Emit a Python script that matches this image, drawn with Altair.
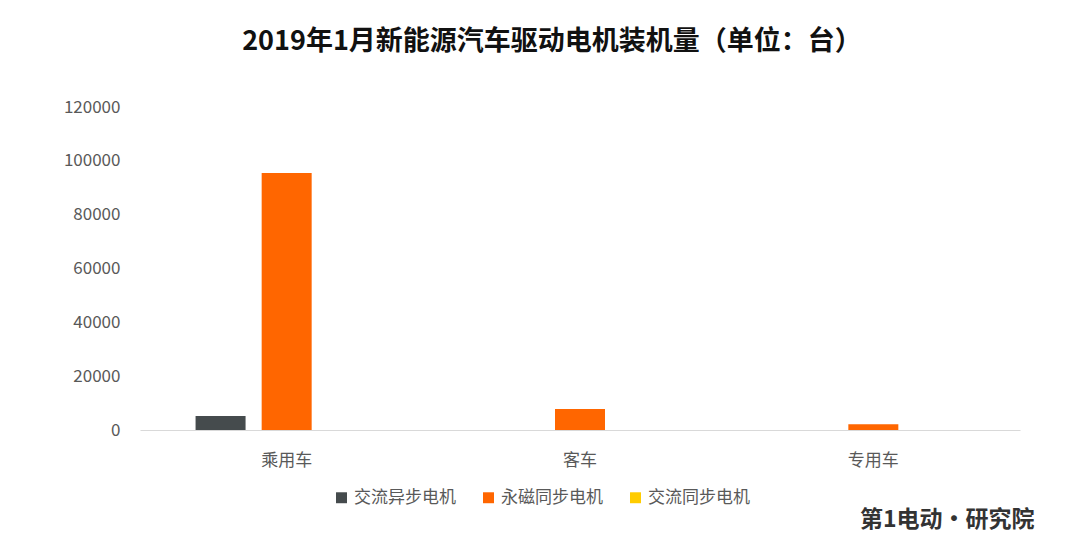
import altair as alt
import pandas as pd

categories = ["乘用车", "客车", "专用车"]
series = ["交流异步电机", "永磁同步电机", "交流同步电机"]
ac_async = [5200, 0, 0]
pm_sync = [95500, 7800, 2100]
ac_sync = [0, 0, 0]
colors = ["#454b4d", "#ff6600", "#ffcc00"]
y_ticks = [0, 20000, 40000, 60000, 80000, 100000, 120000]

rows = []
for i, c in enumerate(categories):
    for s, vals in zip(series, [ac_async, pm_sync, ac_sync]):
        rows.append({"category": c, "series": s, "value": vals[i]})
df = pd.DataFrame(rows)

FONT = "Noto Sans CJK SC"

bars = alt.Chart(df).mark_bar(size=50).encode(
    x=alt.X("category:N", sort=categories,
            scale=alt.Scale(paddingInner=0.324, paddingOuter=0.162),
            axis=alt.Axis(title=None, labelAngle=0, labelFontSize=17, labelColor="#595959",
                          labelFont=FONT, domainColor="#d9d9d9", ticks=False, labelPadding=22)),
    xOffset=alt.XOffset("series:N", sort=series,
                        scale=alt.Scale(paddingInner=0.24, paddingOuter=0.12)),
    y=alt.Y("value:Q", scale=alt.Scale(domain=[0, 120000]),
            axis=alt.Axis(title=None, values=y_ticks, grid=False, domain=False, ticks=False,
                          labelFontSize=17, labelColor="#595959", labelFont=FONT,
                          labelPadding=20, format="d")),
    color=alt.Color("series:N", sort=series,
                    scale=alt.Scale(domain=series, range=colors),
                    legend=alt.Legend(title=None, orient="none", direction="horizontal",
                                      legendX=193, legendY=382, symbolType="square",
                                      symbolSize=120, symbolStrokeWidth=0,
                                      labelFontSize=17, labelColor="#595959", labelFont=FONT,
                                      columnPadding=24, labelOffset=4)),
)

logo = alt.Chart(pd.DataFrame({"t": ["第1电动·研究院"]})).mark_text(
    align="left", baseline="middle", fontSize=23, font=FONT, color="#333333",
    fontWeight="bold").encode(
    text="t:N", x=alt.value(720), y=alt.value(413)
)

chart = alt.layer(bars, logo).properties(
    width=880, height=323,
    background="white",
    title=alt.TitleParams("2019年1月新能源汽车驱动电机装机量（单位：台）",
                          fontSize=27, fontWeight="bold", font=FONT, color="#111111",
                          anchor="middle", dx=-28, offset=42),
    autosize=alt.AutoSizeParams(type="none"),
    padding={"left": 132, "top": 99, "right": 52, "bottom": 110},
).configure_view(stroke=None, strokeWidth=0)

chart.save("out.html", embed_options={"renderer": "svg", "actions": False})
